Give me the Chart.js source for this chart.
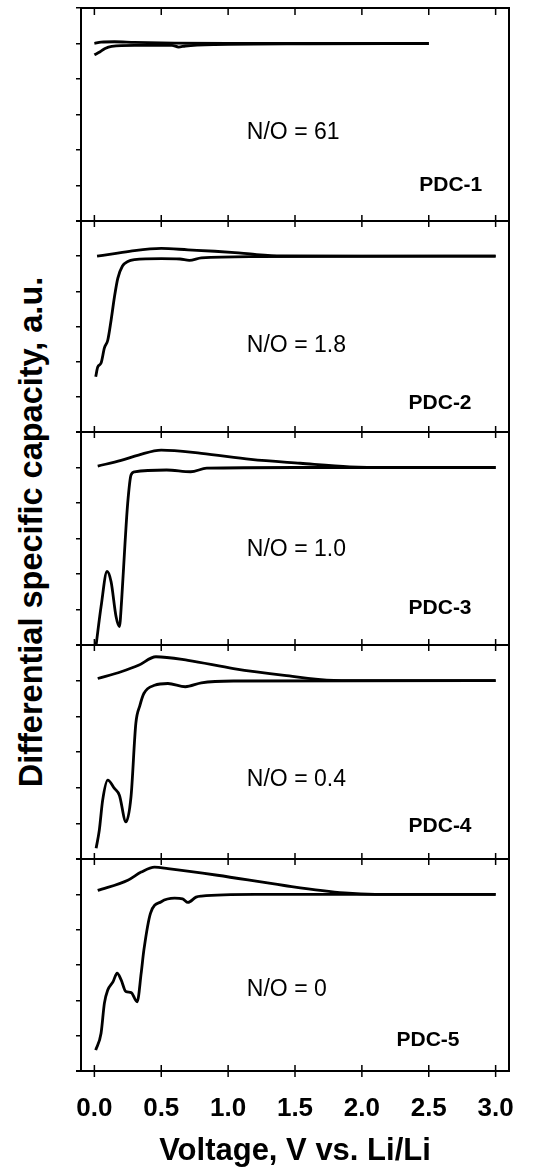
<!DOCTYPE html>
<html>
<head>
<meta charset="utf-8">
<script src="https://cdn.jsdelivr.net/npm/chart.js@4.4.1/dist/chart.umd.min.js"></script>
<style>
  html, body { margin: 0; padding: 0; background: #fff; }
  #wrap { position: relative; width: 539px; height: 1172px; overflow: hidden; }
  #wrap canvas { position: absolute; left: 0; }
  #ytitle {
    position: absolute; left: 31px; top: 532px;
    transform: translate(-50%, -50%) rotate(-90deg);
    font: bold 32.5px "Liberation Sans", Arial, sans-serif;
    line-height: 1; white-space: nowrap; color: #000;
  }
</style>
</head>
<body>
<div id="wrap">
  <div id="ytitle">Differential specific capacity, a.u.</div>
</div>
<script>
// tick labels / categories
const xTicks = [0.0, 0.5, 1.0, 1.5, 2.0, 2.5, 3.0];
const panelNames = ['PDC-1', 'PDC-2', 'PDC-3', 'PDC-4', 'PDC-5'];
const ratioLabels = ['N/O = 61', 'N/O = 1.8', 'N/O = 1.0', 'N/O = 0.4', 'N/O = 0'];

// dQ/dV curves, [voltage, a.u.] - upper = delithiation, lower = lithiation
const pdc1Upper = [[0.0, 5.0], [0.05, 5.04], [0.15, 5.05], [0.3, 5.03], [0.6, 5.01], [1.0, 5.0], [2.5, 5.0]];
const pdc1Lower = [[0.0, 4.68], [0.04, 4.76], [0.08, 4.86], [0.13, 4.92], [0.3, 4.95], [0.58, 4.95], [0.63, 4.9],
                   [0.68, 4.93], [0.9, 4.97], [1.6, 4.99], [2.5, 5.0]];

const pdc2Upper = [[0.02, 5.0], [0.15, 5.07], [0.3, 5.16], [0.5, 5.22], [0.7, 5.18], [0.9, 5.14], [1.05, 5.1],
                   [1.2, 5.05], [1.4, 5.01], [2.0, 5.0], [3.0, 5.0]];
const pdc2Lower = [[0.01, 1.57], [0.025, 1.85], [0.05, 1.96], [0.075, 2.39], [0.1, 2.61], [0.125, 3.18], [0.15, 3.84],
                   [0.175, 4.37], [0.21, 4.72], [0.25, 4.85], [0.3, 4.9], [0.5, 4.93], [0.64, 4.92], [0.71, 4.88],
                   [0.8, 4.95], [1.2, 4.99], [3.0, 5.0]];

const pdc3Upper = [[0.025, 5.04], [0.2, 5.2], [0.33, 5.35], [0.5, 5.49], [0.8, 5.4], [1.17, 5.23], [1.54, 5.12],
                   [1.91, 5.02], [2.2, 5.0], [3.0, 5.0]];
const pdc3Lower = [[0.013, 0.0], [0.05, 1.08], [0.095, 2.07], [0.125, 1.78], [0.162, 0.8], [0.187, 0.52], [0.204, 1.27],
                   [0.229, 2.86], [0.249, 3.99], [0.274, 4.79], [0.3, 4.88], [0.54, 4.93], [0.72, 4.88], [0.84, 4.98],
                   [1.5, 5.0], [3.0, 5.0]];

const pdc4Upper = [[0.025, 5.06], [0.2, 5.25], [0.33, 5.43], [0.46, 5.67], [0.7, 5.57], [1.04, 5.34], [1.42, 5.15],
                   [1.79, 5.01], [2.1, 5.0], [3.0, 5.0]];
const pdc4Lower = [[0.013, 0.3], [0.037, 0.81], [0.062, 1.65], [0.1, 2.21], [0.15, 1.98], [0.187, 1.79], [0.236, 1.04],
                   [0.274, 1.75], [0.31, 3.8], [0.34, 4.3], [0.37, 4.64], [0.45, 4.87], [0.55, 4.92], [0.68, 4.83],
                   [0.8, 4.94], [1.04, 4.99], [3.0, 5.0]];

const pdc5Upper = [[0.025, 5.11], [0.25, 5.4], [0.35, 5.63], [0.45, 5.77], [0.55, 5.73], [0.92, 5.54], [1.42, 5.25],
                   [1.87, 5.04], [2.1, 5.0], [3.0, 5.0]];
const pdc5Lower = [[0.01, 0.59], [0.05, 1.07], [0.075, 1.92], [0.1, 2.29], [0.14, 2.53], [0.17, 2.77], [0.2, 2.58],
                   [0.235, 2.25], [0.275, 2.22], [0.32, 1.96], [0.35, 2.77], [0.37, 3.42], [0.42, 4.47], [0.5, 4.79],
                   [0.6, 4.89], [0.66, 4.87], [0.7, 4.77], [0.76, 4.92], [0.8, 4.95], [1.2, 5.0], [3.0, 5.0]];

const curves = [
  [pdc1Upper, pdc1Lower],
  [pdc2Upper, pdc2Lower],
  [pdc3Upper, pdc3Lower],
  [pdc4Upper, pdc4Lower],
  [pdc5Upper, pdc5Lower]
];

// layout (pixels) and label anchors (in axis units)
const EDGES = [8, 221, 432, 645, 859, 1071];
const W = 539, H = 1172, PLOT_LEFT = 81, PLOT_RIGHT = 509, PAD = 10;
const ratioAt = [[1.14, 2.5], [1.14, 2.45], [1.14, 2.69], [1.14, 2.23], [1.14, 2.29]];
const nameAt = [[2.90, 1.0], [2.82, 0.83], [2.82, 1.03], [2.82, 0.93], [2.73, 0.88]];
const FONT = '"Liberation Sans", Arial, sans-serif';

const framePlugin = {
  id: 'frame',
  afterDraw(chart, args, opts) {
    const {ctx, chartArea: a, scales: {x, y}} = chart;
    ctx.save();
    ctx.strokeStyle = '#000';
    ctx.lineWidth = 2;
    ctx.beginPath();
    ctx.moveTo(a.left, a.top);
    ctx.lineTo(a.right, a.top);
    ctx.lineTo(a.right, a.bottom);
    ctx.lineTo(a.left - 5, a.bottom);
    ctx.stroke();

    // ticks crossing the panel edge
    ctx.lineWidth = 1.5;
    ctx.beginPath();
    xTicks.forEach(v => {
      const px = x.getPixelForValue(v);
      ctx.moveTo(px, a.bottom - 6);
      ctx.lineTo(px, a.bottom + 6);
      if (opts.topTicks) {
        ctx.moveTo(px, a.top);
        ctx.lineTo(px, a.top + 7);
      }
    });
    ctx.stroke();

    ctx.fillStyle = '#000';
    ctx.textBaseline = 'middle';
    ctx.font = '23px ' + FONT;
    ctx.textAlign = 'left';
    ctx.fillText(opts.ratio, x.getPixelForValue(opts.ratioAt[0]), y.getPixelForValue(opts.ratioAt[1]));
    ctx.font = 'bold 21px ' + FONT;
    ctx.textAlign = 'right';
    ctx.fillText(opts.name, x.getPixelForValue(opts.nameAt[0]), y.getPixelForValue(opts.nameAt[1]));
    ctx.restore();
  }
};

const wrap = document.getElementById('wrap');

for (let i = 0; i < 5; i++) {
  const isLast = i === 4;
  const top = EDGES[i] - PAD;
  const height = isLast ? H - top : (EDGES[i + 1] - EDGES[i]) + 2 * PAD;
  const canvas = document.createElement('canvas');
  canvas.width = W;
  canvas.height = height;
  canvas.style.top = top + 'px';
  canvas.style.width = W + 'px';
  canvas.style.height = height + 'px';
  wrap.appendChild(canvas);

  new Chart(canvas.getContext('2d'), {
    type: 'line',
    data: {
      datasets: curves[i].map(c => ({
        data: c.map(p => ({x: p[0], y: p[1]})),
        borderColor: '#000',
        borderWidth: 2.8,
        pointRadius: 0,
        fill: false,
        cubicInterpolationMode: 'monotone'
      }))
    },
    options: {
      responsive: false,
      animation: false,
      events: [],
      layout: {
        padding: {left: PLOT_LEFT, right: W - PLOT_RIGHT, top: PAD, bottom: isLast ? 0 : PAD}
      },
      plugins: {
        legend: {display: false},
        tooltip: {enabled: false},
        frame: {
          topTicks: i === 0,
          ratio: ratioLabels[i],
          ratioAt: ratioAt[i],
          name: panelNames[i],
          nameAt: nameAt[i]
        }
      },
      scales: {
        x: {
          type: 'linear',
          min: -0.1,
          max: 3.1,
          display: isLast,
          grid: {display: false, drawTicks: false},
          border: {display: false},
          ticks: {
            stepSize: 0.5,
            includeBounds: false,
            autoSkip: false,
            maxRotation: 0,
            padding: 22,
            color: '#000',
            font: {family: FONT, size: 26, weight: 'bold'},
            callback: v => Number(v).toFixed(1)
          },
          title: {
            display: true,
            text: 'Voltage, V vs. Li/Li',
            color: '#000',
            font: {family: FONT, size: 31, weight: 'bold'},
            padding: {top: 0, bottom: 2}
          },
          afterFit: s => { s.height = isLast ? H - EDGES[5] : 0; }
        },
        y: {
          min: 0,
          max: 6,
          ticks: {stepSize: 1, display: false},
          grid: {drawOnChartArea: false, drawTicks: true, tickLength: 5, color: '#000', lineWidth: 1.5},
          border: {display: true, color: '#000', width: 2},
          afterFit: s => { s.width = 0; }
        }
      }
    },
    plugins: [framePlugin]
  });
}
</script>
</body>
</html>
